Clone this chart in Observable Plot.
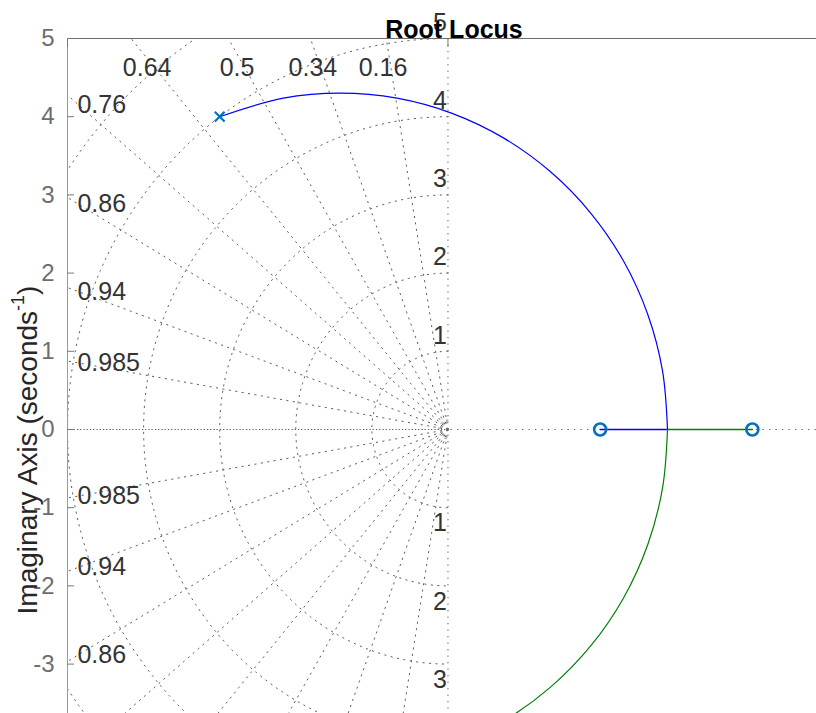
<!DOCTYPE html>
<html><head><meta charset="utf-8">
<script src="https://cdn.jsdelivr.net/npm/d3@7"></script>
<script src="https://cdn.jsdelivr.net/npm/@observablehq/plot@0.6"></script>
<style>
body{margin:0;background:#fff}
#chart{position:relative;width:816px;height:713px}
</style>
</head><body><div id="chart"></div>
<script>
// ---- data ----
const titleText = "Root Locus";
const yTicks = [-3, -2, -1, 0, 1, 2, 3, 4, 5];
const yTickLabels = ["-3", "-2", "-1", "0", "1", "2", "3", "4", "5"];
const topTicks = [-5, 0];
const zetaValues = [0.16, 0.34, 0.5, 0.64, 0.76, 0.86, 0.94, 0.985];
const zetaLabels = ["0.16", "0.34", "0.5", "0.64", "0.76", "0.86", "0.94", "0.985"];
const wnValues = [0.12, 1, 2, 3, 4, 5, 6];
const wnLabels = ["", "1", "2", "3", "4", "5", "6"];
const poleRe = [-3, -3];
const poleIm = [4, -4];
const zeroRe = [2, 4];
const zeroIm = [0, 0];
// branch 1 (blue): upper pole -> break-in point
const upperRe = [-3.0, -2.164, -1.417, -0.670, 0.054, 0.734, 1.348, 1.878, 2.309, 2.626, 2.820, 2.885];
const upperIm = [4.0, 4.237, 4.302, 4.237, 4.043, 3.726, 3.295, 2.765, 2.151, 1.471, 0.747, 0.0];
// branch 2 (green): lower pole -> break-in point
const lowerRe = [-3.0, -2.164, -1.417, -0.670, 0.054, 0.734, 1.348, 1.878, 2.309, 2.626, 2.820, 2.885];
const lowerIm = [-4.0, -4.237, -4.302, -4.237, -4.043, -3.726, -3.295, -2.765, -2.151, -1.471, -0.747, 0.0];
// real-axis parts after break-in
const blueRealRe = [2.885, 2.0];
const greenRealRe = [2.885, 4.0];

const xDomain = [-5, 4.843];
const yDomain = [-3.632, 5];

// ---- derived tables ----
const upper = upperRe.map((x, i) => ({x, y: upperIm[i]}));
const lower = lowerRe.map((x, i) => ({x, y: lowerIm[i]}));
const blueReal = blueRealRe.map(x => ({x, y: 0}));
const greenReal = greenRealRe.map(x => ({x, y: 0}));
const poles = poleRe.map((x, i) => ({x, y: poleIm[i]}));
const zeros = zeroRe.map((x, i) => ({x, y: zeroIm[i]}));

const rays = [];
zetaValues.forEach((z, i) => {
  const s = Math.sqrt(1 - z * z);
  for (const sign of [1, -1]) {
    rays.push({k: i + "" + sign, x: 0, y: 0});
    rays.push({k: i + "" + sign, x: -12 * z, y: sign * 12 * s});
  }
});
const circles = [];
wnValues.forEach((w, i) => {
  for (let a = 90; a <= 270; a += 1) {
    const t = a * Math.PI / 180;
    circles.push({k: i, x: w * Math.cos(t), y: w * Math.sin(t)});
  }
});
const wnText = [];
wnValues.forEach((w, i) => {
  if (!wnLabels[i]) return;
  for (const sign of [1, -1]) {
    const y = sign * (w + 0.2);
    if (y <= 5.3 && y >= yDomain[0] + 0.1) wnText.push({x: 0, y, t: wnLabels[i]});
  }
});
const zetaLeft = [], zetaTop = [];
zetaValues.forEach((z, i) => {
  const s = Math.sqrt(1 - z * z);
  for (const sign of [1, -1]) {
    const yl = 4.85 * s / z;
    if (yl <= 4.62) {
      const y = sign * yl;
      if (y >= yDomain[0] + 0.2) zetaLeft.push({x: -4.87, y, t: zetaLabels[i]});
    } else if (sign > 0) {
      zetaTop.push({x: -4.62 * z / s, y: 4.62, t: zetaLabels[i]});
    }
  }
});

const gridColor = "#5e5e5e";
const dots = "1.3,5.2";

const plot = Plot.plot({
  width: 816, height: 713,
  marginLeft: 67, marginRight: 0, marginTop: 38, marginBottom: 0,
  x: {domain: xDomain, axis: null},
  y: {domain: yDomain, axis: null},
  style: {fontFamily: "Liberation Sans, Arial, Helvetica, sans-serif", fontSize: "23px", background: "white", overflow: "visible"},
  marks: [
    // sgrid
    Plot.line(circles, {x: "x", y: "y", z: "k", stroke: gridColor, strokeWidth: 1, strokeDasharray: dots, clip: true}),
    Plot.line(rays, {x: "x", y: "y", z: "k", stroke: gridColor, strokeWidth: 1, strokeDasharray: dots, clip: true}),
    Plot.ruleY([0], {stroke: gridColor, strokeWidth: 1, strokeDasharray: dots}),
    Plot.ruleY([0], {x1: xDomain[0], x2: 0, stroke: gridColor, strokeWidth: 1, strokeDasharray: dots, strokeDashoffset: 3}),
    Plot.ruleX([0], {stroke: gridColor, strokeWidth: 1, strokeDasharray: dots}),
    // box
    Plot.ruleY([yDomain[1]], {stroke: "#6b6b6b", strokeWidth: 1}),
    Plot.ruleX([xDomain[0]], {stroke: "#9a9a9a", strokeWidth: 1}),
    Plot.axisY({ticks: yTicks, tickSize: 7, dx: 7, tickFormat: () => "", label: null, color: "#777"}),
    Plot.axisX({anchor: "top", ticks: topTicks, tickSize: 8, dy: 8, tickFormat: () => "", label: null, color: "#777"}),
    Plot.axisY({ticks: yTicks, tickSize: 0, tickPadding: 13, tickFormat: d => yTickLabels[yTicks.indexOf(d)], label: null, color: "#6e6e6e", fontSize: 24}),
    // grid labels
    Plot.text(zetaLeft, {x: "x", y: "y", text: "t", textAnchor: "start", fill: "#333", fontSize: 25}),
    Plot.text(zetaTop, {x: "x", y: "y", text: "t", textAnchor: "middle", dx: -8, fill: "#333", fontSize: 25}),
    Plot.text(wnText, {x: "x", y: "y", text: "t", textAnchor: "end", dx: -1, fill: "#333", fontSize: 25}),
    // locus
    Plot.line(upper, {x: "x", y: "y", stroke: "#0000ff", strokeWidth: 1.2, curve: "catmull-rom", clip: true}),
    Plot.line(blueReal, {x: "x", y: "y", stroke: "#0000ff", strokeWidth: 1.6, clip: true}),
    Plot.line(lower, {x: "x", y: "y", stroke: "#008000", strokeWidth: 1.2, curve: "catmull-rom", clip: true}),
    Plot.line(greenReal, {x: "x", y: "y", stroke: "#008000", strokeWidth: 1.6, clip: true}),
    Plot.dot(poles, {x: "x", y: "y", symbol: "times", r: 4.5, stroke: "#0072BD", strokeWidth: 2.2, clip: true}),
    Plot.dot(zeros, {x: "x", y: "y", symbol: "circle", r: 6, stroke: "#0072BD", strokeWidth: 2.6, fill: "none", clip: true}),
    // title
    Plot.text([titleText], {text: d => d, frameAnchor: "top", dx: 12, dy: -18, fontWeight: "bold", fontSize: 25, fill: "black"})
  ]
});

// y-axis label with superscript
const svg = d3.select(plot);
const lab = svg.append("text")
  .attr("transform", "translate(30,450) rotate(-90)")
  .attr("text-anchor", "middle")
  .attr("dominant-baseline", "middle")
  .attr("font-size", 28)
  .attr("fill", "#262626");
lab.append("tspan").text("Imaginary Axis (seconds");
lab.append("tspan").attr("font-size", 18).attr("dy", -11).text("-1");
lab.append("tspan").attr("dy", 11).text(")");

document.getElementById("chart").appendChild(plot);
</script>
</body></html>
